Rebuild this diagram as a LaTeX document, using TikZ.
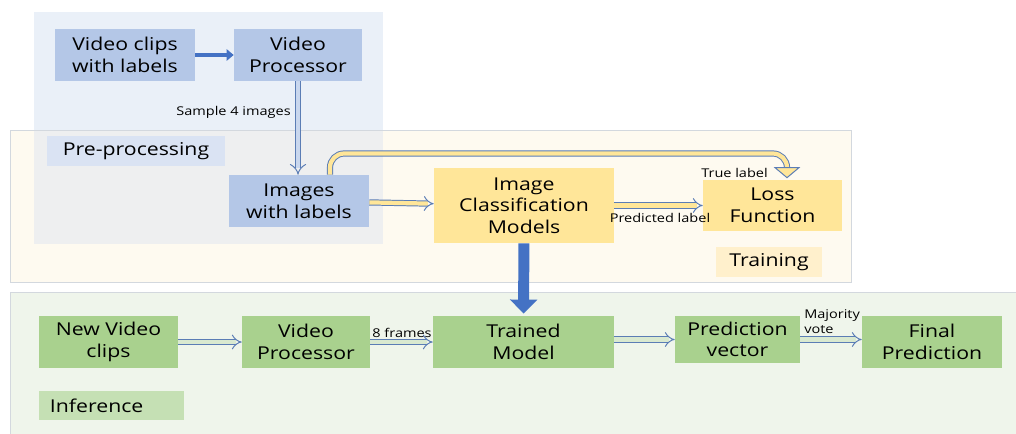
\documentclass[tikz,border=0pt]{standalone}
\usepackage{fontspec}
\setmainfont{Open Sans}[FakeStretch=1.2]
\usetikzlibrary{arrows.meta}
\definecolor{boxblue}{HTML}{B4C7E7}
\definecolor{boxyellow}{HTML}{FFE699}
\definecolor{boxgreen}{HTML}{A9D18E}
\definecolor{tagblue}{HTML}{DAE3F3}
\definecolor{tagyellow}{HTML}{FFF0CC}
\definecolor{taggreen}{HTML}{C5E0B4}
\definecolor{paneblue}{HTML}{EAF0F8}
\definecolor{panecream}{HTML}{FEFAF0}
\definecolor{panegray}{HTML}{EEEFF0}
\definecolor{panegreen}{HTML}{EFF5EB}
\definecolor{paneline}{HTML}{D3D8DE}
\definecolor{arrowblue}{HTML}{4472C4}
\definecolor{rimblue}{HTML}{5B7DB5}
\definecolor{shaftblue}{HTML}{C9D7EE}
\definecolor{shaftgreen}{HTML}{D9E9D0}

\tikzset{
  big/.style={font=\fontsize{12.6}{15.4}\selectfont,align=center,inner sep=0pt},
  small/.style={font=\fontsize{8.6}{10.6}\selectfont,inner sep=0pt},
  bluebox/.style={big,fill=boxblue},
  yellowbox/.style={big,fill=boxyellow},
  greenbox/.style={big,fill=boxgreen},
  hollow/.style={draw=rimblue,line width=.7pt,double=#1,double distance=3pt,-{Implies}},
  solidarrow/.style={draw=arrowblue,line width=3pt,-{Triangle[width=8pt,length=5pt]}},
  bigarrow/.style={draw=arrowblue,line width=7.8pt,-{Triangle[width=19pt,length=10pt]}}
}

\begin{document}
\begin{tikzpicture}[x=0.025cm,y=-0.025cm]
\useasboundingbox(0,0)rectangle(1016,433);
% panels
\fill[panecream](10,130)rectangle(851,282);
\fill[paneblue](34,12)rectangle(383,244);
\fill[panegray](34,130)rectangle(383,244);
\draw[paneline,line width=.6pt](10,130)rectangle(851,282);
\filldraw[fill=panegreen,draw=paneline,line width=.6pt](10,292)rectangle(1040,450);
\node[big,fill=tagblue,minimum width=4.45cm,minimum height=.75cm](pretag)at(136,151){Pre-processing};
\node[big,fill=tagyellow,minimum width=2.65cm,minimum height=.75cm](traintag)at(769,262){Training};
\node[big,fill=taggreen,text width=3.075cm,inner xsep=.275cm,minimum height=.725cm,align=left](inftag)at(111.5,405.5){Inference};

% pre-processing
\node[bluebox,minimum width=3.5cm,minimum height=1.3cm](vclips)at(125,55){Video clips\\with labels};
\node[bluebox,minimum width=3.2cm,minimum height=1.3cm](vproc)at(298,55){Video\\Processor};
\node[bluebox,minimum width=3.5cm,minimum height=1.3cm](images)at(299,201){Images\\with labels};
\draw[solidarrow](vclips)--(vproc);
\draw[hollow=shaftblue,double distance=3.4pt](vproc.south)--(vproc.south|-images.north);
\node[small,anchor=east](sample)at(291,112){Sample 4 images};

% training
\node[yellowbox,minimum width=4.5cm,minimum height=1.875cm](icm)at(524,205.5){Image\\Classification\\Models};
\node[yellowbox,minimum width=3.475cm,minimum height=1.275cm](loss)at(772.5,205.5){Loss\\Function};
\draw[hollow=boxyellow](images)--(icm);
\draw[hollow=boxyellow](icm)--(loss);
\node[small](predlabel)at(660,218){Predicted label};
\node[small](truelabel)at(734.5,173){True label};
\coordinate(loopl)at(330,153.5);
\coordinate(loopr)at(787,153.5);
\draw[hollow=boxyellow,rounded corners=10pt,shorten >=1pt,-{Triangle[open,fill=boxyellow,width=19pt,length=8pt,line width=.7pt]}]
  (images.north-|loopl)--(loopl)--(loopr)--(loss.north-|loopr);

% inference
\node[greenbox,minimum width=3.475cm,minimum height=1.3cm](newclips)at(108.5,342){New Video\\clips};
\node[greenbox,minimum width=3.2cm,minimum height=1.3cm](vproc2)at(306,342){Video\\Processor};
\node[greenbox,minimum width=4.525cm,minimum height=1.3cm](trained)at(523.5,342){Trained\\Model};
\node[greenbox,minimum width=3.125cm,minimum height=1.175cm](predvec)at(737.5,339.5){Prediction\\vector};
\node[greenbox,minimum width=3.5cm,minimum height=1.3cm](final)at(932,342){Final\\Prediction};
\draw[hollow=shaftgreen](newclips)--(vproc2);
\draw[hollow=shaftgreen](vproc2)--(trained);
\draw[hollow=shaftgreen](trained.east|-predvec)--(predvec);
\draw[hollow=shaftgreen](predvec)--(final.west|-predvec);
\node[small](frames)at(402,333){8 frames};
\node[small,align=left,anchor=west](vote)at(804,321.5){Majority\\vote};

\draw[bigarrow,shorten >=1.5pt](icm)--(trained);
\end{tikzpicture}
\end{document}
